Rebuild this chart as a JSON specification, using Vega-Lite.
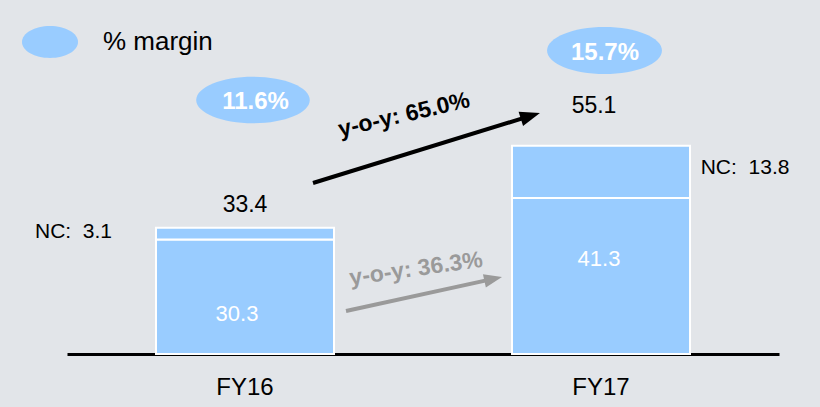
{
  "$schema": "https://vega.github.io/schema/vega-lite/v6.json",
  "width": 712,
  "height": 354,
  "autosize": {"type": "none"},
  "padding": {"left": 67, "right": 41, "top": 0, "bottom": 53},
  "background": "#e2e5e9",
  "config": {
    "font": "Liberation Sans",
    "view": {"stroke": null},
    "axisX": {"domainColor": "#000000", "domainWidth": 3, "ticks": false, "tickSize": 0, "labelFontSize": 24, "labelColor": "#000000", "labelPadding": 21, "labelAngle": 0, "grid": false, "zindex": 1, "title": null},
    "legend": {"orient": "none", "legendX": -45, "legendY": 14, "padding": 0, "symbolType": "M-1,0C-1,-0.3148,-0.5523,-0.57,0,-0.57C0.5523,-0.57,1,-0.3148,1,0C1,0.3148,0.5523,0.57,0,0.57C-0.5523,0.57,-1,0.3148,-1,0Z", "symbolSize": 3136, "symbolStrokeWidth": 0, "symbolOpacity": 1, "labelFontSize": 26, "labelColor": "#000000", "labelOffset": 25, "title": null}
  },
  "datasets": {
    "segments": [
      {"year": "FY16", "segment": "Core", "value": 30.3},
      {"year": "FY16", "segment": "NC", "value": 3.1},
      {"year": "FY17", "segment": "Core", "value": 41.3},
      {"year": "FY17", "segment": "NC", "value": 13.8}
    ],
    "years": [
      {"year": "FY16", "total": 33.4, "core": 30.3, "nc": 3.1, "ncLabel": "NC:\u00a0 3.1", "margin": "11.6%"},
      {"year": "FY17", "total": 55.1, "core": 41.3, "nc": 13.8, "ncLabel": "NC:\u00a0 13.8", "margin": "15.7%"}
    ],
    "growth": [
      {"from": "FY16", "to": "FY17", "start": 33.4, "end": 55.1, "basis": "total", "label": "y-o-y: 65.0%"},
      {"from": "FY16", "to": "FY17", "start": 30.3, "end": 41.3, "basis": "core", "label": "y-o-y: 36.3%"}
    ]
  },
  "layer": [
    {
      "data": {"name": "segments"},
      "mark": {"type": "bar", "fill": "#99ccff", "stroke": "#ffffff", "strokeWidth": 2},
      "encoding": {
        "x": {"field": "year", "type": "nominal", "title": null, "scale": {"domain": ["FY16", "FY17"], "paddingInner": 0.5, "paddingOuter": 0.25}},
        "y": {"field": "value", "type": "quantitative", "stack": "zero", "axis": null, "scale": {"domain": [0, 93.65], "nice": false}},
        "detail": {"field": "segment"},
        "order": {"field": "segment", "sort": "ascending"}
      }
    },
    {
      "data": {"name": "years"},
      "transform": [{"filter": "datum.year === 'FY16'"}],
      "mark": {"type": "point", "shape": "M-1,0C-1,-0.2264,-0.5523,-0.41,0,-0.41C0.5523,-0.41,1,-0.2264,1,0C1,0.2264,0.5523,0.41,0,0.41C-0.5523,0.41,-1,0.2264,-1,0Z", "size": 12900, "filled": true, "opacity": 1, "strokeWidth": 0, "xOffset": 8, "yOffset": -127.75},
      "encoding": {
        "x": {"field": "year", "type": "nominal", "title": null},
        "y": {"field": "total", "type": "quantitative", "axis": null},
        "color": {"datum": "% margin", "type": "nominal", "scale": {"range": ["#99ccff"]}, "title": null}
      }
    },
    {
      "data": {"name": "years"},
      "transform": [{"filter": "datum.year === 'FY17'"}],
      "mark": {"type": "point", "shape": "M-1,0C-1,-0.2264,-0.5523,-0.41,0,-0.41C0.5523,-0.41,1,-0.2264,1,0C1,0.2264,0.5523,0.41,0,0.41C-0.5523,0.41,-1,0.2264,-1,0Z", "size": 13200, "filled": true, "opacity": 1, "strokeWidth": 0, "xOffset": 3.5, "yOffset": -95.2},
      "encoding": {
        "x": {"field": "year", "type": "nominal", "title": null},
        "y": {"field": "total", "type": "quantitative", "axis": null},
        "color": {"datum": "% margin", "type": "nominal", "title": null}
      }
    },
    {
      "data": {"name": "years"},
      "transform": [{"filter": "datum.year === 'FY16'"}],
      "mark": {"type": "text", "fill": "#ffffff", "fontSize": 24, "fontWeight": "bold", "align": "center", "baseline": "middle", "xOffset": 10.5, "yOffset": -125.75},
      "encoding": {
        "x": {"field": "year", "type": "nominal", "title": null},
        "y": {"field": "total", "type": "quantitative", "axis": null},
        "text": {"field": "margin"}
      }
    },
    {
      "data": {"name": "years"},
      "transform": [{"filter": "datum.year === 'FY17'"}],
      "mark": {"type": "text", "fill": "#ffffff", "fontSize": 24, "fontWeight": "bold", "align": "center", "baseline": "middle", "xOffset": 4, "yOffset": -92.3},
      "encoding": {
        "x": {"field": "year", "type": "nominal", "title": null},
        "y": {"field": "total", "type": "quantitative", "axis": null},
        "text": {"field": "margin"}
      }
    },
    {
      "data": {"name": "years"},
      "transform": [{"filter": "datum.year === 'FY16'"}],
      "mark": {"type": "text", "fill": "#000000", "fontSize": 23, "align": "center", "baseline": "alphabetic", "yOffset": -16},
      "encoding": {
        "x": {"field": "year", "type": "nominal", "title": null},
        "y": {"field": "total", "type": "quantitative", "axis": null},
        "text": {"field": "total", "type": "quantitative", "format": ".1f"}
      }
    },
    {
      "data": {"name": "years"},
      "transform": [{"filter": "datum.year === 'FY17'"}],
      "mark": {"type": "text", "fill": "#000000", "fontSize": 23, "align": "center", "baseline": "alphabetic", "xOffset": -7, "yOffset": -32.7},
      "encoding": {
        "x": {"field": "year", "type": "nominal", "title": null},
        "y": {"field": "total", "type": "quantitative", "axis": null},
        "text": {"field": "total", "type": "quantitative", "format": ".1f"}
      }
    },
    {
      "data": {"name": "years"},
      "transform": [{"filter": "datum.year === 'FY16'"}],
      "mark": {"type": "text", "fill": "#000000", "fontSize": 21, "align": "left", "baseline": "alphabetic", "xOffset": -210, "yOffset": 10.25},
      "encoding": {
        "x": {"field": "year", "type": "nominal", "title": null},
        "y": {"field": "total", "type": "quantitative", "axis": null},
        "text": {"field": "ncLabel"}
      }
    },
    {
      "data": {"name": "years"},
      "transform": [{"filter": "datum.year === 'FY17'"}],
      "mark": {"type": "text", "fill": "#000000", "fontSize": 21, "align": "left", "baseline": "alphabetic", "xOffset": 99.7, "yOffset": 28.3},
      "encoding": {
        "x": {"field": "year", "type": "nominal", "title": null},
        "y": {"field": "total", "type": "quantitative", "axis": null},
        "text": {"field": "ncLabel"}
      }
    },
    {
      "data": {"name": "years"},
      "transform": [{"filter": "datum.year === 'FY16'"}],
      "mark": {"type": "text", "fill": "#ffffff", "fontSize": 22, "align": "center", "baseline": "alphabetic", "xOffset": -8, "yOffset": 81.5},
      "encoding": {
        "x": {"field": "year", "type": "nominal", "title": null},
        "y": {"field": "core", "type": "quantitative", "axis": null},
        "text": {"field": "core", "type": "quantitative", "format": ".1f"}
      }
    },
    {
      "data": {"name": "years"},
      "transform": [{"filter": "datum.year === 'FY17'"}],
      "mark": {"type": "text", "fill": "#ffffff", "fontSize": 22, "align": "center", "baseline": "alphabetic", "xOffset": -2, "yOffset": 68},
      "encoding": {
        "x": {"field": "year", "type": "nominal", "title": null},
        "y": {"field": "core", "type": "quantitative", "axis": null},
        "text": {"field": "core", "type": "quantitative", "format": ".1f"}
      }
    },
    {
      "data": {"name": "growth"},
      "transform": [{"filter": "datum.basis === 'total'"}],
      "mark": {"type": "rule", "stroke": "#000000", "strokeWidth": 4, "xOffset": 68, "yOffset": -44.75, "x2Offset": -70.6, "y2Offset": -29.8},
      "encoding": {
        "x": {"field": "from", "type": "nominal", "title": null},
        "x2": {"field": "to"},
        "y": {"field": "start", "type": "quantitative", "axis": null},
        "y2": {"field": "end"}
      }
    },
    {
      "data": {"name": "growth"},
      "transform": [{"filter": "datum.basis === 'total'"}],
      "mark": {"type": "point", "shape": "M1,0L-1,-0.75L-1,0.75Z", "size": 400, "angle": -17.1, "filled": true, "fill": "#000000", "opacity": 1, "strokeWidth": 0, "xOffset": -70.6, "yOffset": -29.8},
      "encoding": {
        "x": {"field": "to", "type": "nominal", "title": null},
        "y": {"field": "end", "type": "quantitative", "axis": null}
      }
    },
    {
      "data": {"name": "growth"},
      "transform": [{"filter": "datum.basis === 'total'"}],
      "mark": {"type": "text", "fill": "#000000", "fontSize": 23, "fontWeight": "bold", "angle": -13, "align": "center", "baseline": "middle", "xOffset": 159, "yOffset": -112.75},
      "encoding": {
        "x": {"field": "from", "type": "nominal", "title": null},
        "y": {"field": "start", "type": "quantitative", "axis": null},
        "text": {"field": "label"}
      }
    },
    {
      "data": {"name": "growth"},
      "transform": [{"filter": "datum.basis === 'core'"}],
      "mark": {"type": "rule", "stroke": "#9a9a9a", "strokeWidth": 4, "xOffset": 101, "yOffset": 71.5, "x2Offset": -107.8, "y2Offset": 81},
      "encoding": {
        "x": {"field": "from", "type": "nominal", "title": null},
        "x2": {"field": "to"},
        "y": {"field": "start", "type": "quantitative", "axis": null},
        "y2": {"field": "end"}
      }
    },
    {
      "data": {"name": "growth"},
      "transform": [{"filter": "datum.basis === 'core'"}],
      "mark": {"type": "point", "shape": "M1,0L-1,-0.75L-1,0.75Z", "size": 324, "angle": -12.4, "filled": true, "fill": "#9a9a9a", "opacity": 1, "strokeWidth": 0, "xOffset": -107.8, "yOffset": 81},
      "encoding": {
        "x": {"field": "to", "type": "nominal", "title": null},
        "y": {"field": "end", "type": "quantitative", "axis": null}
      }
    },
    {
      "data": {"name": "growth"},
      "transform": [{"filter": "datum.basis === 'core'"}],
      "mark": {"type": "text", "fill": "#9a9a9a", "fontSize": 23, "fontWeight": "bold", "angle": -8, "align": "center", "baseline": "middle", "xOffset": 171, "yOffset": 29.5},
      "encoding": {
        "x": {"field": "from", "type": "nominal", "title": null},
        "y": {"field": "start", "type": "quantitative", "axis": null},
        "text": {"field": "label"}
      }
    }
  ]
}
